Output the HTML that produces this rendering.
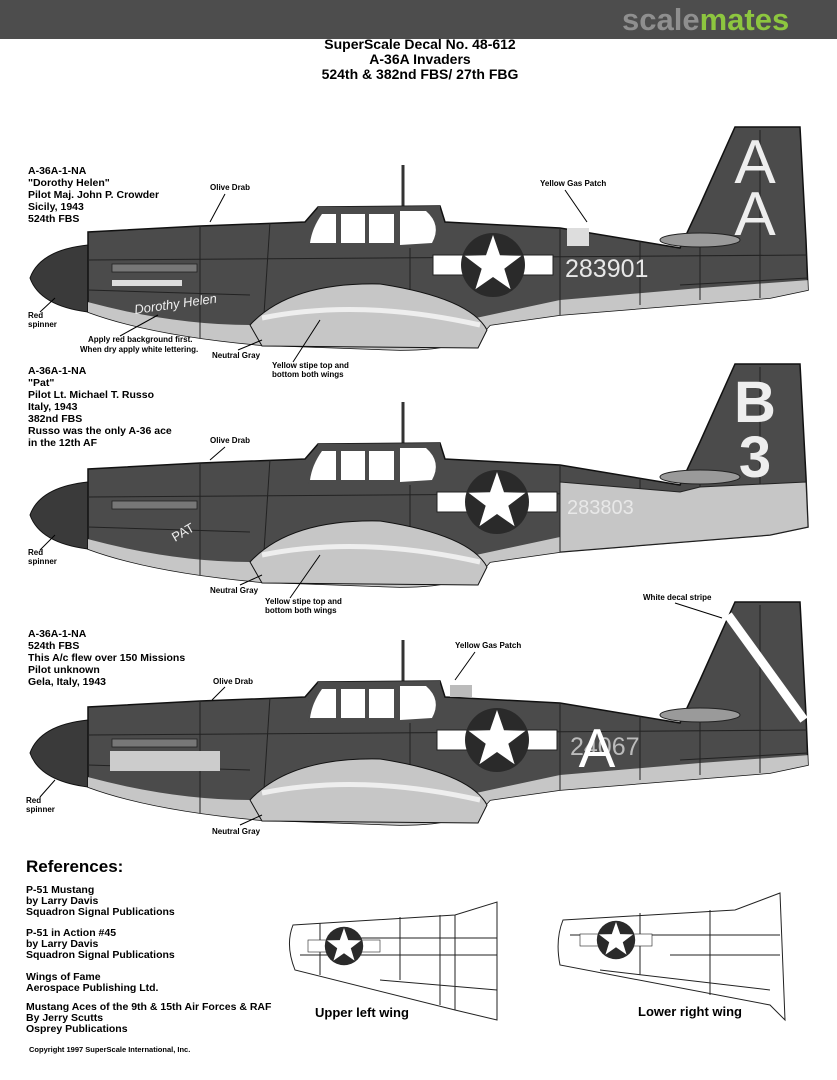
<!DOCTYPE html>
<html><head><meta charset="utf-8"><style>
html,body{margin:0;padding:0;background:#fff;width:837px;height:1080px;overflow:hidden}
svg{display:block}
text{font-family:"Liberation Sans",Arial,sans-serif}
</style></head><body>
<svg width="837" height="1080" viewBox="0 0 837 1080" xmlns="http://www.w3.org/2000/svg">
<defs>
<clipPath id="bc"><path d="M88,245 L88,232 L200,226 L305,222 L318,207 L440,206 L445,222 L560,228 L680,248 L700,205 L735,127 L800,127 L806,240 L808,290 L770,298 L560,315 L490,325 Q470,350 400,350 L260,345 Q150,335 88,312 Z"/></clipPath>
<g id="plane">
<line x1="403" y1="165" x2="403" y2="207" stroke="#333" stroke-width="3"/>
<path d="M88,245 Q40,250 30,278 Q40,306 88,312 Z" fill="#3a3a3a" stroke="#111"/>
<path d="M88,245 L88,232 L200,226 L305,222 L318,207 L440,206 L445,222 L560,228 L680,248 L700,205 L735,127 L800,127 L806,240 L808,290 L770,298 L560,315 L490,325 Q470,350 400,350 L260,345 Q150,335 88,312 Z" fill="#4b4b4b" stroke="#111" stroke-width="1.5"/>
<g clip-path="url(#bc)">
<path d="M80,300 Q170,325 250,325 L420,330 L560,300 L700,288 L810,280 L810,360 L80,360 Z" fill="#c6c6c6"/>
<g stroke="#222" stroke-width="1" fill="none">
<line x1="88" y1="260" x2="808" y2="255"/><line x1="200" y1="226" x2="200" y2="340"/>
<line x1="270" y1="222" x2="262" y2="345"/><line x1="410" y1="245" x2="410" y2="330"/>
<line x1="560" y1="228" x2="560" y2="315"/><line x1="640" y1="240" x2="640" y2="305"/>
<line x1="700" y1="240" x2="700" y2="300"/><line x1="760" y1="130" x2="760" y2="298"/>
<line x1="88" y1="290" x2="250" y2="295"/><line x1="680" y1="285" x2="808" y2="278"/>
</g>
</g>
<path d="M250,325 Q290,282 380,284 Q470,298 487,330 L478,348 L262,346 Z" fill="#c6c6c6" stroke="#111"/>
<path d="M262,318 Q360,298 480,325" stroke="#eee" stroke-width="5" fill="none"/>
<ellipse cx="700" cy="240" rx="40" ry="7" fill="#9a9a9a" stroke="#222"/>
<path d="M318,207 L440,206 L440,248 L308,248 Z" fill="#4b4b4b"/>
<path d="M322,214 L336,214 L336,243 L310,243 Q312,228 322,214 Z" fill="#fff"/>
<rect x="341" y="214" width="24" height="29" fill="#fff"/><rect x="369" y="214" width="25" height="29" fill="#fff"/>
<path d="M400,211 L426,211 Q442,225 432,243 L400,245 Z" fill="#fff"/>
<rect x="112" y="264" width="85" height="8" fill="#777" stroke="#222" stroke-width=".8"/>
</g>
<g id="roundel">
<rect x="-60" y="-10" width="120" height="20" fill="#fff" stroke="#222"/>
<circle r="32" fill="#2a2a2a"/>
<polygon points="0,-30 7,-9.7 28.5,-9.3 11.3,3.7 17.6,24.3 0,12 -17.6,24.3 -11.3,3.7 -28.5,-9.3 -7,-9.7" fill="#fff"/>
</g>
</defs>

<rect x="0" y="0" width="837" height="39" fill="#4d4d4d"/>
<text x="622" y="30" font-size="31" font-weight="bold" fill="#8f8f8f">scale<tspan fill="#8dc63f">mates</tspan></text>
<g font-weight="bold" font-size="14" text-anchor="middle" fill="#000">
<text x="420" y="49">SuperScale Decal No. 48-612</text>
<text x="420" y="64">A-36A Invaders</text>
<text x="420" y="79">524th &amp; 382nd FBS/ 27th FBG</text>
</g>

<!-- plane 1 -->
<use href="#plane"/>
<use href="#roundel" x="493" y="265"/>
<text x="565" y="277" font-size="25" fill="#e8e8e8">283901</text>
<text x="755" y="183" font-size="62" fill="#eee" text-anchor="middle">A</text>
<text x="755" y="235" font-size="62" fill="#eee" text-anchor="middle">A</text>
<rect x="567" y="228" width="22" height="18" fill="#ddd"/>
<rect x="112" y="280" width="70" height="6" fill="#ddd"/>
<text x="135" y="314" font-size="13" font-style="italic" fill="#eee" transform="rotate(-8 135 314)">Dorothy Helen</text>

<!-- plane 2 -->
<g transform="translate(0,237)">
<use href="#plane"/>
<path d="M560,300 L560,245 L680,255 L700,250 L806,245 L808,290 L770,298 L560,315 Z" fill="#c6c6c6" stroke="#222" stroke-width="1"/>
<use href="#roundel" x="497" y="265"/>
<text x="567" y="277" font-size="20" fill="#e8e8e8">283803</text>
<text x="755" y="185" font-size="58" fill="#eee" text-anchor="middle" font-weight="bold">B</text>
<text x="755" y="240" font-size="58" fill="#eee" text-anchor="middle" font-weight="bold">3</text>
<text x="175" y="305" font-size="13" fill="#eee" transform="rotate(-30 175 305)">PAT</text>
</g>

<!-- plane 3 -->
<g transform="translate(0,475)">
<use href="#plane"/>
<use href="#roundel" x="497" y="265"/>
<text x="570" y="280" font-size="25" fill="#bbb">24067</text>
<text x="597" y="292" font-size="55" fill="#fff" text-anchor="middle">A</text>
<line x1="728" y1="140" x2="804" y2="245" stroke="#fff" stroke-width="9"/>
<rect x="450" y="210" width="22" height="12" fill="#bbb"/>
<rect x="110" y="276" width="110" height="20" fill="#ccc"/>
</g>

<!-- labels -->
<g font-size="10.5" font-weight="bold" fill="#000">
<text x="28" y="174">A-36A-1-NA</text><text x="28" y="186">"Dorothy Helen"</text>
<text x="28" y="198">Pilot Maj. John P. Crowder</text><text x="28" y="210">Sicily, 1943</text><text x="28" y="222">524th FBS</text>
<text x="28" y="374">A-36A-1-NA</text><text x="28" y="386">"Pat"</text>
<text x="28" y="398">Pilot Lt. Michael T. Russo</text><text x="28" y="410">Italy, 1943</text><text x="28" y="422">382nd FBS</text>
<text x="28" y="434">Russo was the only A-36 ace</text><text x="28" y="446">in the 12th AF</text>
<text x="28" y="637">A-36A-1-NA</text><text x="28" y="649">524th FBS</text>
<text x="28" y="661">This A/c flew over 150 Missions</text><text x="28" y="673">Pilot unknown</text><text x="28" y="685">Gela, Italy, 1943</text>
</g>
<g font-size="8" font-weight="bold" fill="#000">
<text x="210" y="190">Olive Drab</text><text x="540" y="186">Yellow Gas Patch</text>
<text x="28" y="318">Red</text><text x="28" y="327">spinner</text>
<text x="88" y="342">Apply red background first.</text><text x="80" y="352">When dry apply white lettering.</text>
<text x="212" y="358">Neutral Gray</text>
<text x="272" y="368">Yellow stipe top and</text><text x="272" y="377">bottom both wings</text>
<text x="210" y="443">Olive Drab</text>
<text x="28" y="555">Red</text><text x="28" y="564">spinner</text>
<text x="210" y="593">Neutral Gray</text>
<text x="265" y="604">Yellow stipe top and</text><text x="265" y="613">bottom both wings</text>
<text x="643" y="600">White decal stripe</text>
<text x="455" y="648">Yellow Gas Patch</text>
<text x="213" y="684">Olive Drab</text>
<text x="26" y="803">Red</text><text x="26" y="812">spinner</text>
<text x="212" y="834">Neutral Gray</text>
</g>
<g stroke="#000" stroke-width="1">
<line x1="225" y1="194" x2="210" y2="222"/><line x1="565" y1="190" x2="587" y2="222"/>
<line x1="40" y1="312" x2="55" y2="298"/><line x1="120" y1="336" x2="158" y2="315"/>
<line x1="238" y1="350" x2="262" y2="340"/><line x1="293" y1="362" x2="320" y2="320"/>
<line x1="225" y1="447" x2="210" y2="460"/><line x1="40" y1="550" x2="55" y2="535"/>
<line x1="240" y1="585" x2="262" y2="575"/><line x1="290" y1="598" x2="320" y2="555"/>
<line x1="675" y1="603" x2="722" y2="618"/><line x1="475" y1="652" x2="455" y2="680"/>
<line x1="225" y1="687" x2="212" y2="700"/><line x1="40" y1="797" x2="55" y2="780"/>
<line x1="240" y1="825" x2="262" y2="815"/>
</g>

<!-- references -->
<text x="26" y="872" font-size="17" font-weight="bold">References:</text>
<g font-size="10.5" font-weight="bold">
<text x="26" y="893">P-51 Mustang</text><text x="26" y="904">by Larry Davis</text><text x="26" y="915">Squadron Signal Publications</text>
<text x="26" y="936">P-51 in Action #45</text><text x="26" y="947">by Larry Davis</text><text x="26" y="958">Squadron Signal Publications</text>
<text x="26" y="980">Wings of Fame</text><text x="26" y="991">Aerospace Publishing Ltd.</text>
<text x="26" y="1010">Mustang Aces of the 9th &amp; 15th Air Forces &amp; RAF</text><text x="26" y="1021">By Jerry Scutts</text><text x="26" y="1032">Osprey Publications</text>
</g>
<text x="29" y="1052" font-size="7.5" font-weight="bold">Copyright 1997 SuperScale International, Inc.</text>

<!-- wings -->
<g fill="#fff" stroke="#222" stroke-width="1">
<path d="M293,925 L455,915 L497,902 L497,1020 L455,1010 L295,970 Q285,945 293,925 Z"/>
<path d="M400,917 L400,980 M320,923 L320,975 M440,915 L440,1005 M455,915 L455,1010 M300,955 L497,955 M330,938 L497,938 M380,980 L497,990" fill="none"/>
<path d="M563,920 L735,910 L780,893 L785,1020 L770,1005 L560,965 Q555,940 563,920 Z"/>
<path d="M640,913 L640,975 M710,910 L710,995 M570,935 L780,935 M600,970 L770,990 M670,955 L780,955" fill="none"/>
</g>
<use href="#roundel" transform="translate(344,946) scale(0.6)"/>
<use href="#roundel" transform="translate(616,940) scale(0.6)"/>
<text x="315" y="1017" font-size="13" font-weight="bold">Upper left wing</text>
<text x="638" y="1016" font-size="13" font-weight="bold">Lower right wing</text>
</svg>
</body></html>
